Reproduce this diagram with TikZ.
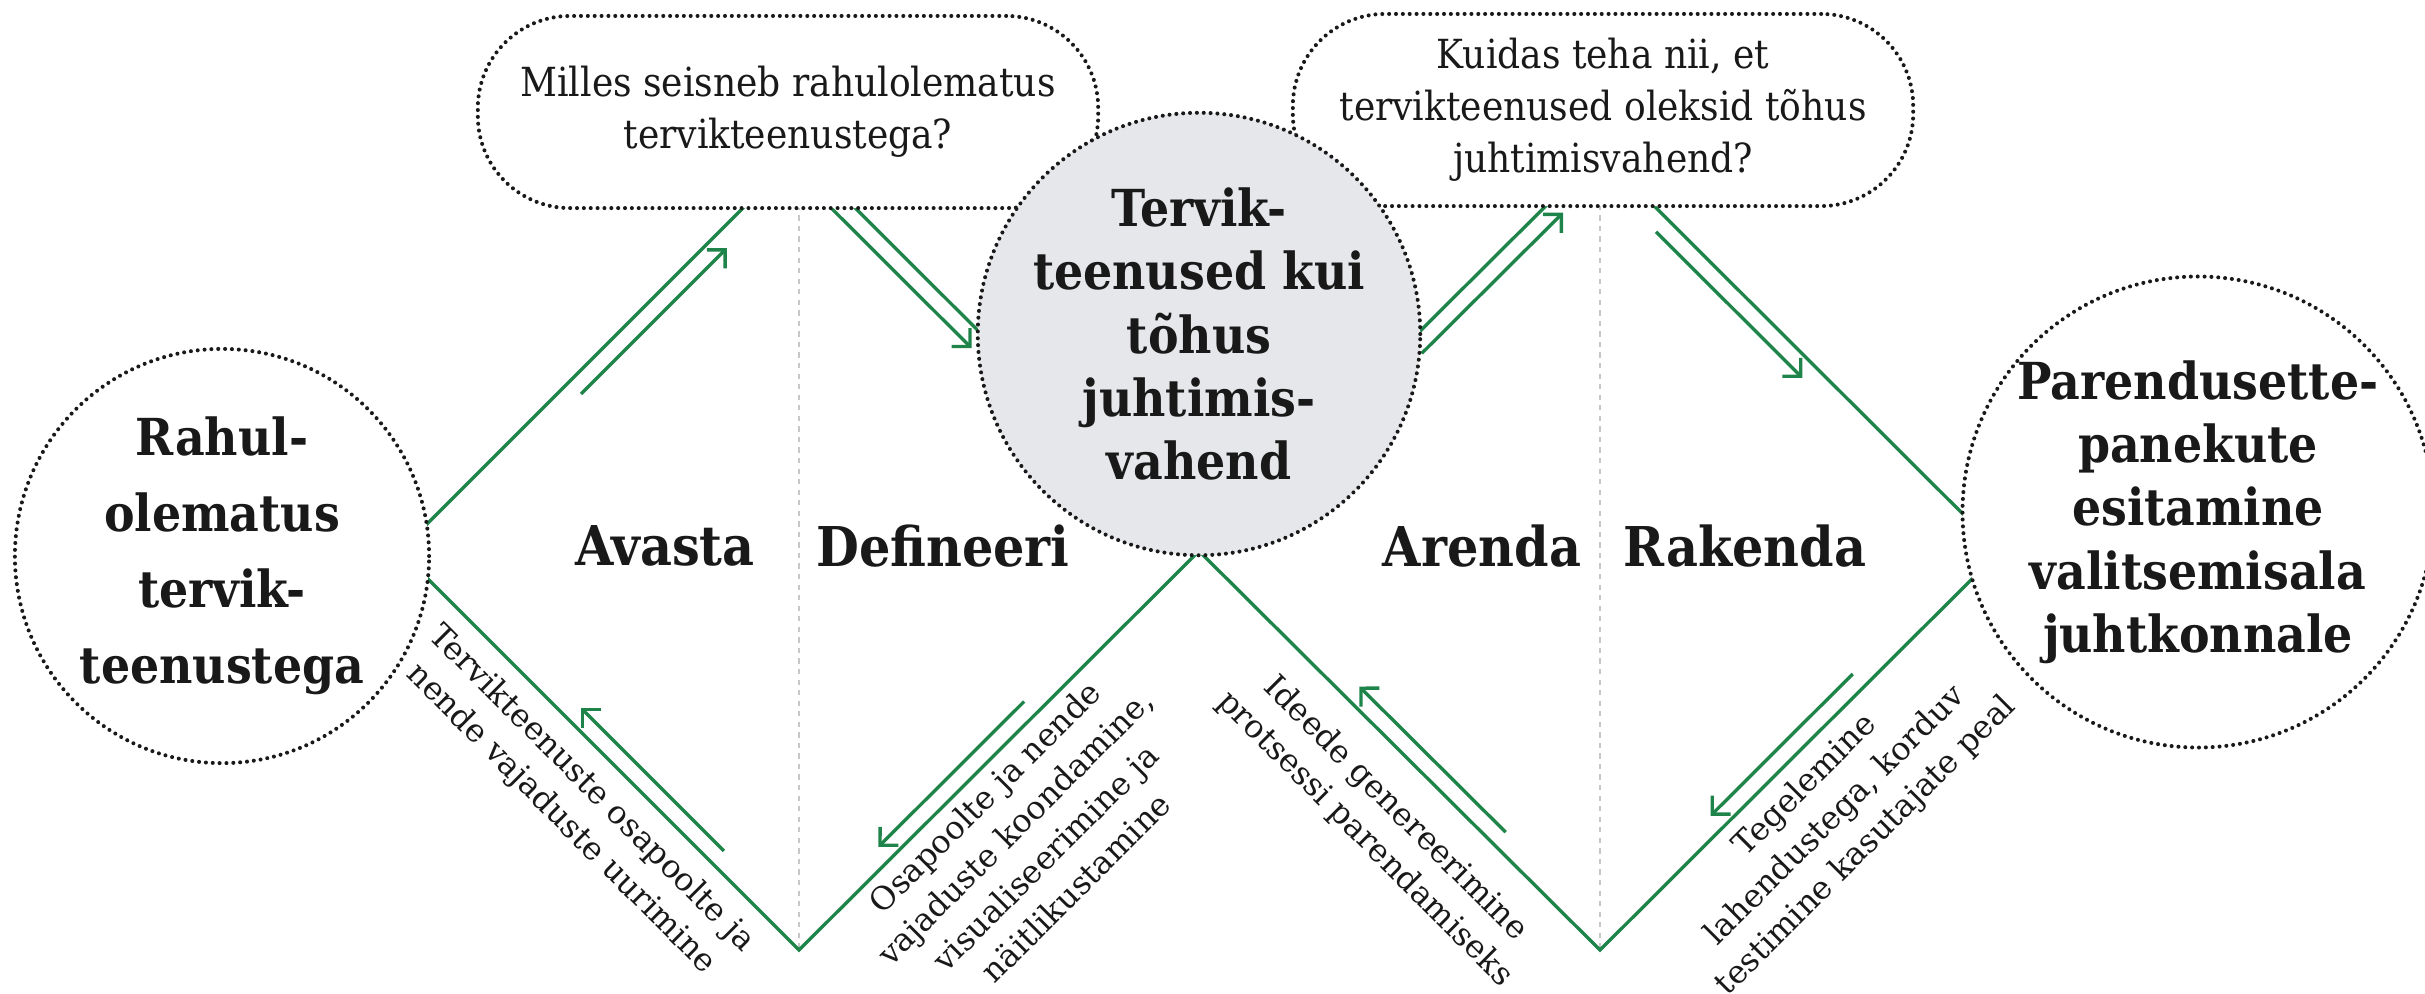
\documentclass[tikz,border=0pt]{standalone}
\usepackage{fontspec}
\setmainfont{DejaVu Serif}
\newfontfamily\condfont{DejaVu Serif Condensed}
\usetikzlibrary{arrows.meta,backgrounds}

\definecolor{flowgreen}{RGB}{30,132,73}
\definecolor{hubgray}{RGB}{229,231,234}
\definecolor{inkblack}{RGB}{25,25,25}

\tikzset{
  dotborder/.style={draw=inkblack, line width=1.15pt, dash pattern=on 0pt off 1.95pt, line cap=round},
  bubble/.style={dotborder, circle, fill=white, align=center, text=inkblack, inner sep=0pt,
    font=\condfont\bfseries\fontsize{14.5}{18}\selectfont},
  question/.style={dotborder, rectangle, rounded corners=0.92cm, fill=white, minimum width=6.2cm,
    minimum height=1.92cm, align=center, text=inkblack, font=\condfont\fontsize{11.4}{14.8}\selectfont},
  phase/.style={text=inkblack, font=\condfont\bfseries\fontsize{15.6}{18}\selectfont},
  edgelabel/.style={align=center, inner sep=0pt, text=inkblack, font=\fontsize{9.1}{12.2}\selectfont},
  track/.style={draw=flowgreen, line width=0.95pt},
  flow/.style={draw=flowgreen, line width=0.95pt, -{Straight Barb[length=1.3mm,width=2.6mm]}},
  guide/.style={draw=black!22, line width=0.5pt, dash pattern=on 1.5pt off 1.5pt}
}

% arrow beside a diamond side: from, to, offset, shorten start, shorten end
\newcommand{\flowline}[5]{\draw[flow, shorten <=#4cm, shorten >=#5cm] ([shift={#3}]#1) -- ([shift={#3}]#2);}

\begin{document}
\begin{tikzpicture}[x=0.01cm,y=-0.01cm]
\useasboundingbox (0,0) rectangle (2425,993);

% corners of the two diamonds
\coordinate (lv) at (400,551);
\coordinate (t1) at (799,152);
\coordinate (cv) at (1199,551);
\coordinate (b1) at (799,950);
\coordinate (t2) at (1600,152);
\coordinate (rv) at (2000,551);
\coordinate (b2) at (1600,950);

\node[question] (q1) at (788,112) {Milles seisneb rahulolematus\\tervikteenustega?};
\node[question] (q2) at (1603,110) {Kuidas teha nii, et\\tervikteenused oleksid tõhus\\juhtimisvahend?};

\node[bubble, minimum size=4.14cm, font=\condfont\bfseries\fontsize{14.5}{21.6}\selectfont] (start) at (222,556)
  {Rahul-\\olematus\\tervik-\\teenustega};
\node[bubble, fill=hubgray, minimum size=4.36cm] (hub) at (1199,334)
  {Tervik-\\teenused kui\\tõhus\\juhtimis-\\vahend};
\node[bubble, minimum size=4.52cm] (goal) at (2198,512)
  {Parendusette-\\panekute\\esitamine\\valitsemisala\\juhtkonnale};

\node[phase] (avasta) at (665,546) {Avasta};
\node[phase] (defineeri) at (943,546) {Defineeri};
\node[phase] (arenda) at (1482,546) {Arenda};
\node[phase] (rakenda) at (1745,546) {Rakenda};

\node[edgelabel, rotate=-45] (uurimine) at (576,804) {Tervikteenuste osapoolte ja\\nende vajaduste uurimine};
\node[edgelabel, rotate=45] (koondamine) at (1030,842) {Osapoolte ja nende\\vajaduste koondamine,\\visualiseerimine ja\\näitlikustamine};
\node[edgelabel, rotate=-45] (ideed) at (1380,824) {Ideede genereerimine\\protsessi parendamiseks};
\node[edgelabel, rotate=45] (testimine) at (1836,816) {Tegelemine\\lahendustega, korduv\\testimine kasutajate peal};

\begin{scope}[on background layer]
  \draw[guide] (t1) -- (b1);
  \draw[guide] (t2) -- (b2);
  \draw[track] (lv) -- (t1) -- (cv) -- (b1) -- cycle;
  \draw[track] (cv) -- (t2) -- (rv) -- (b2) -- cycle;
  \flowline{lv}{t1}{(12,12)}{2.39}{1.19}
  \flowline{t1}{cv}{(-12,12)}{0}{3.04}
  \flowline{cv}{b1}{(-12,-12)}{2.30}{1.29}
  \flowline{b1}{lv}{(12,-12)}{1.23}{2.39}
  \flowline{cv}{t2}{(12,12)}{2.97}{0.69}
  \flowline{t2}{rv}{(-12,12)}{0.96}{2.62}
  \flowline{rv}{b2}{(-12,-12)}{1.91}{1.73}
  \flowline{b2}{cv}{(12,-12)}{1.50}{2.09}
\end{scope}
\end{tikzpicture}
\end{document}
